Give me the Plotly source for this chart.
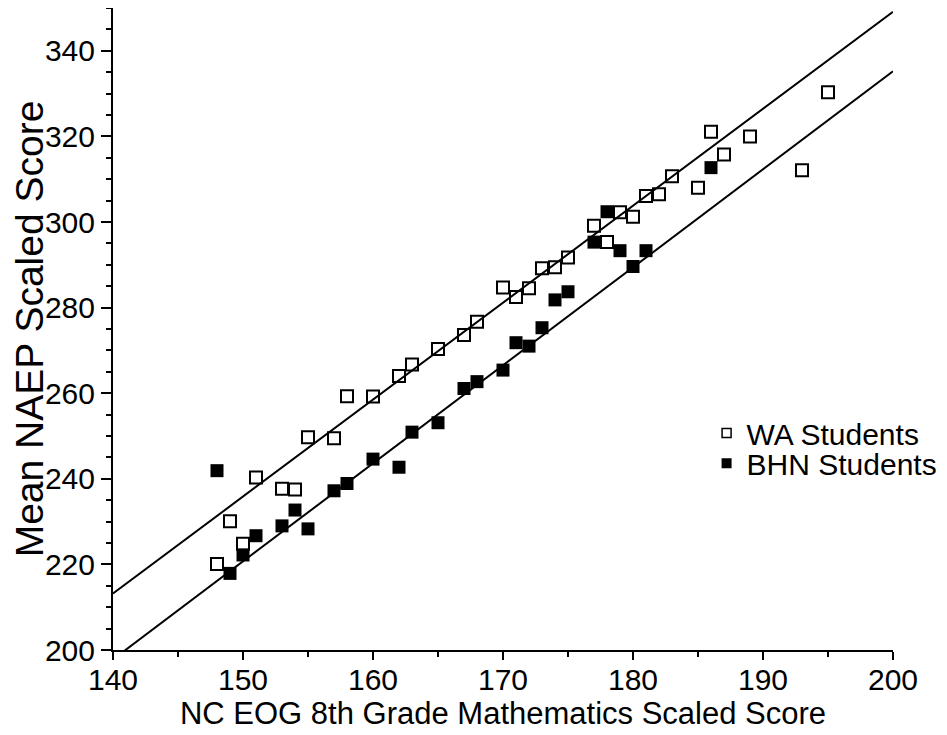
import plotly.graph_objects as go

# WA students (open squares)
wa_x = [148, 149, 150, 151, 153, 154, 155, 157, 158, 160, 162, 163, 165, 167, 168,
        170, 171, 172, 173, 174, 175, 177, 178, 179, 180, 181, 182, 183, 185, 186,
        187, 189, 193, 195]
wa_y = [220.1, 230.1, 224.8, 240.3, 237.7, 237.5, 249.7, 249.5, 259.3, 259.2, 264.0,
        266.7, 270.3, 273.6, 276.7, 284.7, 282.5, 284.5, 289.2, 289.4, 291.7, 299.1,
        295.3, 302.3, 301.2, 306.1, 306.5, 310.7, 308.0, 321.1, 315.8, 320.0, 312.1,
        330.3]

# BHN students (filled squares)
bhn_x = [148, 149, 150, 151, 153, 154, 155, 157, 158, 160, 162, 163, 165, 167, 168,
         170, 171, 172, 173, 174, 175, 177, 178, 179, 180, 181, 186]
bhn_y = [241.9, 217.9, 222.2, 226.7, 229.0, 232.7, 228.3, 237.2, 238.9, 244.6, 242.7,
         250.9, 253.1, 261.1, 262.7, 265.4, 271.8, 271.0, 275.3, 281.8, 283.7, 295.3,
         302.4, 293.3, 289.6, 293.3, 312.7]

# Fitted regression lines (endpoints)
wa_fit_x = [140, 200]
wa_fit_y = [213.2, 349.1]
bhn_fit_x = [140, 200]
bhn_fit_y = [197.8, 335.2]

series_names = ["WA Students", "BHN Students"]

FONT = "Liberation Sans, Arial, Helvetica, sans-serif"

fig = go.Figure()

fig.add_trace(go.Scatter(x=wa_fit_x, y=wa_fit_y, mode="lines",
                         line=dict(color="black", width=2), showlegend=False,
                         hoverinfo="skip"))
fig.add_trace(go.Scatter(x=bhn_fit_x, y=bhn_fit_y, mode="lines",
                         line=dict(color="black", width=2), showlegend=False,
                         hoverinfo="skip"))

fig.add_trace(go.Scatter(x=wa_x, y=wa_y, mode="markers", name=series_names[0],
                         marker=dict(symbol="square-open", size=12, color="black",
                                     line=dict(width=2, color="black")),
                         showlegend=False, cliponaxis=False))
fig.add_trace(go.Scatter(x=bhn_x, y=bhn_y, mode="markers", name=series_names[1],
                         marker=dict(symbol="square", size=13, color="black",
                                     line=dict(width=0)),
                         showlegend=False, cliponaxis=False))

# legend proxies with small markers, each in its own legend box for exact placement
fig.add_trace(go.Scatter(x=[None], y=[None], mode="markers", name=series_names[0],
                         legend="legend",
                         marker=dict(symbol="square-open", size=9, color="black",
                                     line=dict(width=1.5, color="black"))))
fig.add_trace(go.Scatter(x=[None], y=[None], mode="markers", name=series_names[1],
                         legend="legend2",
                         marker=dict(symbol="square", size=10, color="black")))

axis_common = dict(
    showline=True, linecolor="black", linewidth=2,
    showgrid=False, zeroline=False,
    ticks="outside", tickwidth=1.5, tickcolor="black",
    tickfont=dict(family=FONT, size=30, color="black"),
    mirror=False, automargin=False,
)

fig.update_xaxes(
    range=[140, 200], dtick=10, tick0=140, ticklen=8, ticklabelstandoff=-6,
    minor=dict(dtick=5, ticks="outside", ticklen=5, tickwidth=1.5, tickcolor="black"),
    title=dict(text="NC EOG 8th Grade Mathematics Scaled Score",
               font=dict(family=FONT, size=31, color="black"), standoff=2),
    **axis_common,
)
fig.update_yaxes(
    range=[200, 350], dtick=20, tick0=200, ticklen=10,
    minor=dict(dtick=5, ticks="outside", ticklen=5, tickwidth=1.5, tickcolor="black"),
    title=dict(text="Mean NAEP Scaled Score",
               font=dict(family=FONT, size=39, color="black"), standoff=2),
    **axis_common,
)

legend_common = dict(xanchor="left", yanchor="middle",
                     font=dict(family=FONT, size=30, color="black"),
                     bgcolor="rgba(0,0,0,0)", itemwidth=30, borderwidth=0)

# page has an 8px body margin: plot area targeted at page x 113..893, y 8..650
fig.update_layout(
    width=947, height=735,
    margin=dict(l=105, r=62, t=0, b=93),
    paper_bgcolor="white", plot_bgcolor="white",
    showlegend=True,
    legend=dict(x=0.761, y=0.338, **legend_common),
    legend2=dict(x=0.761, y=0.291, **legend_common),
)

fig.write_html("out.html")
